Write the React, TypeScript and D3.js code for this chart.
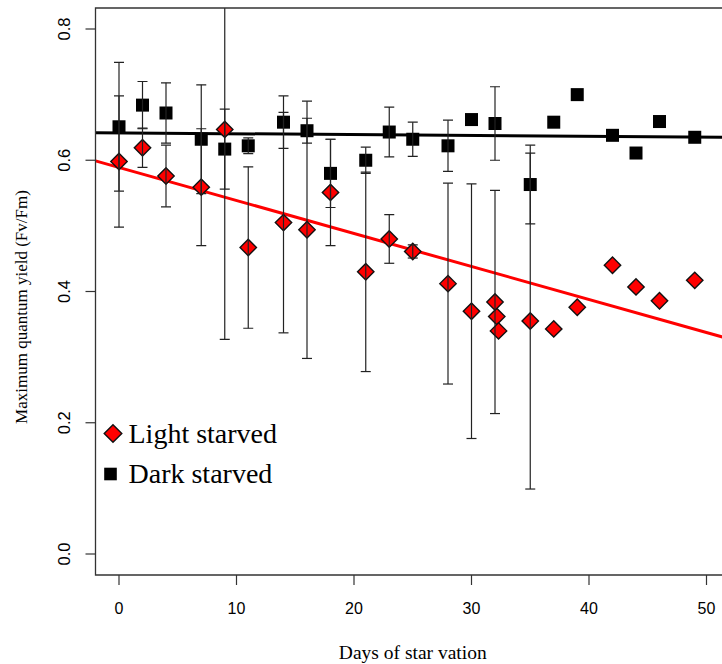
import React from "react";
import * as d3 from "d3";

// ---- data ----
const lightDays = [32.15, 0, 2, 4, 7, 9, 11, 14, 16, 18, 21, 23, 25, 28, 30, 32, 32.3, 35, 37, 39, 42, 44, 46, 49];
const lightYield = [0.362, 0.598, 0.619, 0.576, 0.559, 0.647, 0.467, 0.505, 0.494, 0.551, 0.43, 0.48, 0.461, 0.412, 0.37, 0.384, 0.34, 0.355, 0.343, 0.376, 0.44, 0.407, 0.386, 0.417];
const lightErr = [0, 0.1, 0.03, 0.047, 0.089, 0.32, 0.123, 0.168, 0.196, 0.081, 0.152, 0.037, 0.01, 0.153, 0.194, 0.17, 0, 0.256, 0, 0, 0, 0, 0, 0];

const darkDays = [0, 2, 4, 7, 9, 11, 14, 16, 18, 21, 23, 25, 28, 30, 32, 35, 37, 39, 42, 44, 46, 49];
const darkYield = [0.651, 0.684, 0.672, 0.632, 0.617, 0.622, 0.658, 0.645, 0.58, 0.6, 0.643, 0.632, 0.622, 0.662, 0.656, 0.563, 0.658, 0.7, 0.638, 0.611, 0.659, 0.635];
const darkErr = [0.098, 0.036, 0.046, 0.083, 0.061, 0.012, 0.04, 0.019, 0.052, 0.02, 0.038, 0.026, 0.039, 0, 0.056, 0.06, 0, 0, 0, 0, 0, 0];

const lightFit = { intercept: 0.589, slope: -0.00503 };
const darkFit = { intercept: 0.6417, slope: -0.00013 };

const xTicks = [0, 10, 20, 30, 40, 50];
const yTicks = [0, 0.2, 0.4, 0.6, 0.8];
const legendLabels = ["Light starved", "Dark starved"];

const W = 722;
const H = 664;
const left = 95.5;
const right = 730;
const top = 8;
const bottom = 575;

const x = d3.scaleLinear().domain([-2, 52]).range([left, right]);
const y = d3.scaleLinear().domain([-0.032, 0.832]).range([bottom, top]);

const serif = "'Liberation Serif', 'Times New Roman', serif";
const sans = "'Liberation Sans', Arial, Helvetica, sans-serif";

function diamondPath(cx: number, cy: number, r: number) {
  return `M${cx},${cy - r}L${cx + r},${cy}L${cx},${cy + r}L${cx - r},${cy}Z`;
}

export default function App() {
  const capW = 5;
  const sq = 13;
  const xMin = x.domain()[0];
  const xMax = x.domain()[1];
  const fitLine = (f: { intercept: number; slope: number }) =>
    d3.line<number>()
      .x((d) => x(d))
      .y((d) => y(f.intercept + f.slope * d))([xMin, xMax]) as string;

  const errBars = (days: number[], vals: number[], errs: number[], key: string) =>
    days.map((d, i) =>
      errs[i] > 0 ? (
        <g key={key + i} stroke="#222" strokeWidth={1.2}>
          <line x1={x(d)} x2={x(d)} y1={y(vals[i] - errs[i])} y2={y(vals[i] + errs[i])} />
          <line x1={x(d) - capW} x2={x(d) + capW} y1={y(vals[i] + errs[i])} y2={y(vals[i] + errs[i])} />
          <line x1={x(d) - capW} x2={x(d) + capW} y1={y(vals[i] - errs[i])} y2={y(vals[i] - errs[i])} />
        </g>
      ) : null
    );

  return (
    <svg width={W} height={H} style={{ position: "absolute", left: 0, top: 0, background: "#fff" }}>
      <defs>
        <clipPath id="plotClip">
          <rect x={left} y={top} width={right - left} height={bottom - top} />
        </clipPath>
      </defs>
      <rect x={0} y={0} width={W} height={H} fill="#fff" />

      <g clipPath="url(#plotClip)">
        <path d={fitLine(darkFit)} stroke="#000" strokeWidth={3} fill="none" />
        <path d={fitLine(lightFit)} stroke="#ff0000" strokeWidth={3} fill="none" />
        {lightDays.map((d, i) => (
          <path key={"l" + i} d={diamondPath(x(d), y(lightYield[i]), 8.2)} fill="#ff0000" stroke="#111" strokeWidth={1.4} />
        ))}
        {darkDays.map((d, i) => (
          <rect key={"d" + i} x={x(d) - sq / 2} y={y(darkYield[i]) - sq / 2} width={sq} height={sq} fill="#000" />
        ))}
        {errBars(lightDays, lightYield, lightErr, "le")}
        {errBars(darkDays, darkYield, darkErr, "de")}
      </g>

      {/* box */}
      <path d={`M${right},${top}H${left}V${bottom}H${right}`} fill="none" stroke="#333" strokeWidth={1.3} />

      {/* y axis */}
      {yTicks.map((t) => (
        <g key={"yt" + t}>
          <line x1={left - 10} x2={left} y1={y(t)} y2={y(t)} stroke="#333" strokeWidth={1.2} />
          <text
            transform={`translate(69.5,${y(t)}) rotate(-90)`}
            textAnchor="middle"
            fontFamily={sans}
            fontSize={16.5}
            fill="#000"
          >
            {d3.format(".1f")(t)}
          </text>
        </g>
      ))}
      {/* x axis */}
      {xTicks.map((t) => (
        <g key={"xt" + t}>
          <line x1={x(t)} x2={x(t)} y1={bottom} y2={bottom + 10} stroke="#333" strokeWidth={1.2} />
          <text x={x(t)} y={614} textAnchor="middle" fontFamily={sans} fontSize={16} fill="#000">
            {t}
          </text>
        </g>
      ))}

      <text x={(left + right) / 2} y={659} textAnchor="middle" fontFamily={serif} fontSize={19.5} fill="#000">
        Days of star vation
      </text>
      <text
        transform={`translate(27,307) rotate(-90)`}
        textAnchor="middle"
        fontFamily={serif}
        fontSize={17}
        fill="#000"
      >
        Maximum quantum yield (Fv/Fm)
      </text>

      {/* legend */}
      <path d={diamondPath(113, 433.5, 8.8)} fill="#ff0000" stroke="#111" strokeWidth={1.4} />
      <text x={128.5} y={442.5} fontFamily={serif} fontSize={28} fill="#000">
        {legendLabels[0]}
      </text>
      <rect x={110.5 - 6.3} y={474 - 6.3} width={12.6} height={12.6} fill="#000" />
      <text x={128.5} y={482.5} fontFamily={serif} fontSize={28} fill="#000">
        {legendLabels[1]}
      </text>
    </svg>
  );
}
